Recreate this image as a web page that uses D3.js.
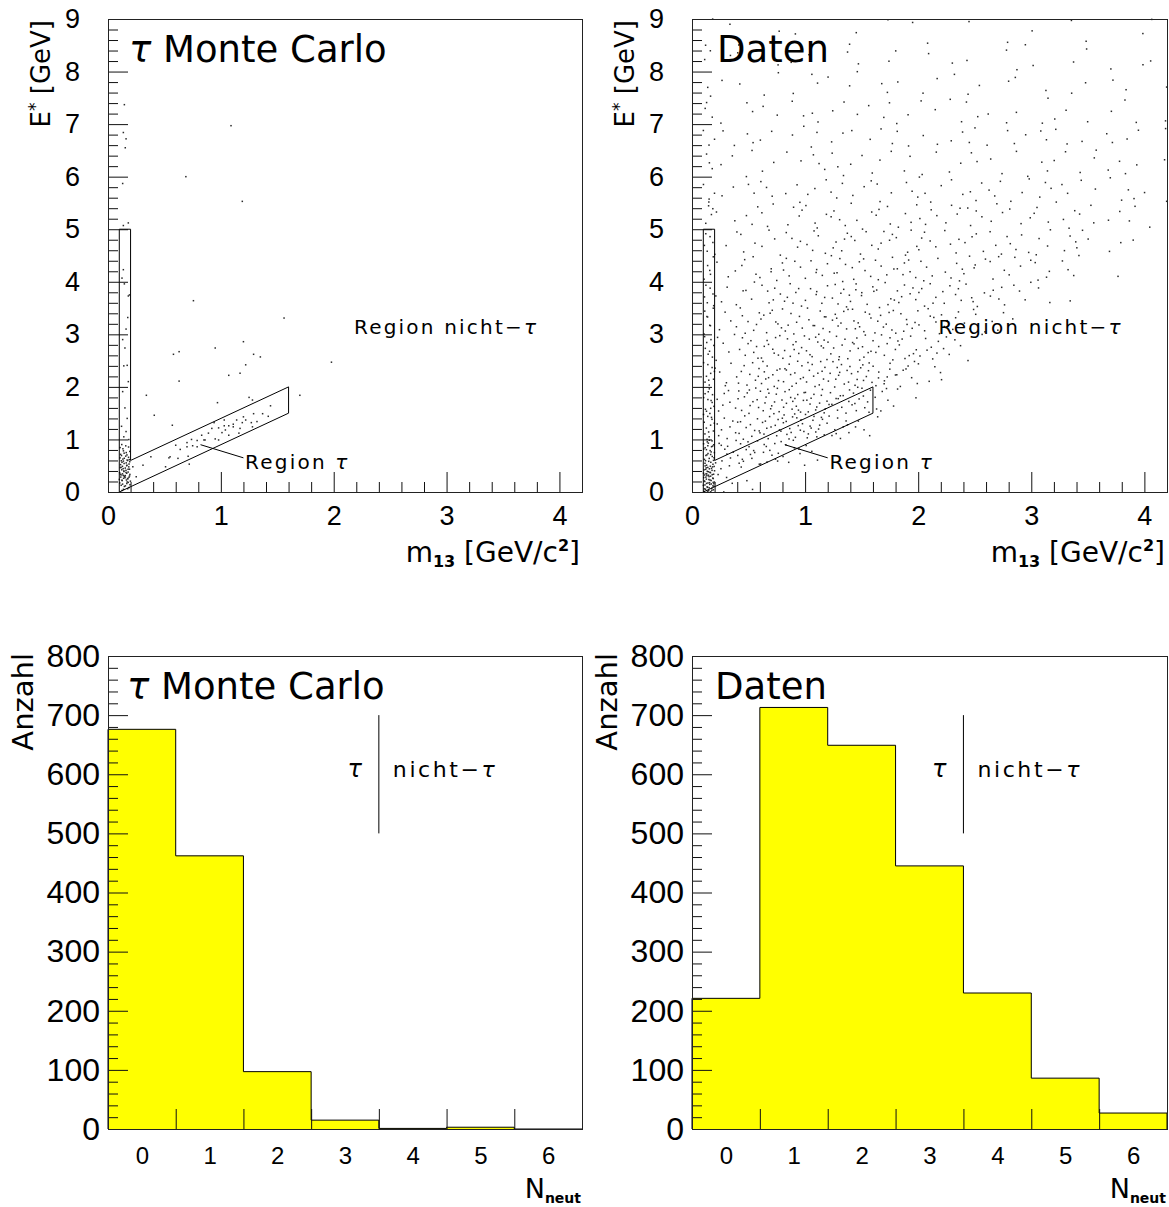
<!DOCTYPE html>
<html>
<head>
<meta charset="utf-8">
<script src="https://cdn.jsdelivr.net/npm/d3@7"></script>
<style>
  html, body { margin: 0; padding: 0; background: #fff; }
  svg { display: block; }
</style>
</head>
<body>
<svg id="chart" width="1169" height="1207"></svg>
<script>
// ---------------------------------------------------------------
// Data
// ---------------------------------------------------------------

// tau Monte Carlo: individual events (m13 [GeV/c^2], E* [GeV]) outside the dense cluster
const mcEvents = [
  [0.145, 7.37], [0.136, 6.84], [0.16, 6.72], [0.153, 6.55], [1.09, 6.97], [0.69, 6.0],
  [0.13, 5.87], [1.19, 5.53], [0.136, 5.07], [0.18, 5.12], [0.136, 4.23], [0.124, 4.07],
  [0.145, 3.96], [0.19, 3.75], [0.18, 3.73], [0.757, 3.64], [1.56, 3.31], [0.175, 3.32],
  [1.20, 2.86], [0.95, 2.74], [1.29, 2.62], [0.58, 2.62], [0.63, 2.67], [1.35, 2.57],
  [1.22, 2.42], [1.07, 2.22], [1.17, 2.26], [0.63, 2.11], [1.98, 2.47], [0.15, 2.74],
  [0.14, 2.40], [0.17, 2.41], [0.13, 1.91], [0.34, 1.84], [1.70, 1.84], [0.97, 1.70],
  [0.41, 1.46], [0.57, 1.27], [1.25, 1.80], [1.28, 1.75],
  [0.15, 1.60], [0.17, 1.40], [0.12, 1.25], [0.16, 1.15], [0.14, 1.05], [0.18, 2.10],
  [0.13, 2.90], [0.16, 3.10],
  [1.44, 1.64], [1.37, 1.49], [1.29, 1.49], [1.20, 1.43], [1.22, 1.37], [1.11, 1.29],
  [1.07, 1.26], [1.03, 1.26], [0.98, 1.22], [1.04, 1.18], [1.01, 1.13], [0.94, 1.32],
  [0.89, 1.12], [0.95, 1.01], [0.85, 0.99], [0.79, 0.98], [0.74, 1.00], [0.70, 0.94],
  [0.79, 0.86], [0.75, 0.88], [0.64, 0.81], [0.60, 0.89], [0.54, 0.65], [0.71, 0.68],
  [0.51, 0.48], [0.31, 0.51], [1.19, 1.32], [1.27, 1.32], [1.11, 1.24], [0.98, 0.99],
  [1.16, 1.12], [1.14, 1.37], [1.03, 1.37], [1.07, 1.08], [0.92, 1.21], [0.83, 1.08],
  [0.86, 0.99], [0.70, 0.86], [0.72, 0.53], [0.55, 0.67], [0.62, 0.64], [0.38, 0.67],
  [1.42, 1.44], [1.32, 1.34], [1.28, 1.24], [1.17, 1.21], [0.22, 0.48], [0.25, 0.29]
];

// tau Monte Carlo: dense cluster in the strip 0.1 < m13 < 0.2, counts per 0.1 GeV of E* from 0
const mcStripCounts = [4, 9, 12, 13, 12, 10, 8, 6, 4, 2];

// Data: counts in the strip 0.1 < m13 < 0.2, per 0.5 GeV of E* from 0 to 9
const dataStripCounts = [60, 30, 14, 12, 10, 8, 7, 6, 5, 5, 4, 4, 3, 3, 3, 2, 2, 2];

// Data: counts per cell, rows = E* bins of 0.5 GeV (0..9), columns = m13 bins of 0.2 GeV (0.2..4.2)
const dataCounts = [
  [6, 3, 0, 0, 0, 0, 0, 0, 0, 0, 0, 0, 0, 0, 0, 0, 0, 0, 0, 0],
  [10, 14, 12, 8, 3, 0, 0, 0, 0, 0, 0, 0, 0, 0, 0, 0, 0, 0, 0, 0],
  [8, 12, 15, 16, 15, 10, 4, 1, 0, 0, 0, 0, 0, 0, 0, 0, 0, 0, 0, 0],
  [7, 11, 13, 14, 14, 13, 12, 7, 2, 0, 0, 0, 0, 0, 0, 0, 0, 0, 0, 0],
  [6, 9, 11, 12, 12, 12, 11, 10, 8, 4, 1, 0, 0, 0, 0, 0, 0, 0, 0, 0],
  [5, 8, 9, 10, 10, 10, 10, 9, 8, 7, 5, 2, 0, 0, 0, 0, 0, 0, 0, 0],
  [4, 6, 8, 8, 9, 9, 9, 8, 8, 7, 6, 5, 3, 1, 0, 0, 0, 0, 0, 0],
  [4, 5, 6, 7, 7, 7, 7, 7, 7, 6, 6, 5, 5, 4, 2, 1, 0, 0, 0, 0],
  [3, 4, 5, 5, 6, 6, 6, 6, 6, 5, 5, 5, 4, 4, 4, 3, 1, 1, 0, 0],
  [3, 3, 4, 4, 5, 5, 5, 5, 5, 5, 4, 4, 4, 4, 4, 3, 3, 2, 1, 0],
  [2, 3, 3, 4, 4, 4, 4, 4, 4, 4, 4, 4, 3, 3, 3, 3, 3, 2, 2, 1],
  [2, 2, 3, 3, 3, 3, 3, 3, 3, 3, 3, 3, 3, 3, 3, 3, 2, 2, 2, 2],
  [2, 2, 2, 2, 3, 3, 3, 2, 2, 2, 2, 2, 2, 2, 2, 2, 2, 2, 2, 1],
  [2, 2, 2, 2, 2, 2, 2, 2, 2, 2, 2, 2, 2, 2, 2, 2, 2, 2, 2, 1],
  [1, 2, 2, 2, 2, 2, 2, 2, 2, 2, 2, 2, 2, 1, 2, 2, 1, 1, 2, 1],
  [1, 1, 2, 1, 2, 2, 1, 2, 1, 2, 1, 2, 1, 1, 1, 1, 1, 1, 1, 1],
  [1, 1, 1, 1, 1, 1, 1, 1, 1, 1, 1, 1, 1, 1, 1, 1, 1, 1, 1, 1],
  [1, 1, 1, 1, 0, 1, 1, 1, 1, 1, 0, 1, 1, 1, 1, 1, 1, 0, 1, 1]
];

// Binning of the cell tables
const stripRange = [0.1, 0.2];
const gridMStart = 0.2, gridMStep = 0.2, gridEStep = 0.5, mcStripEStep = 0.1;

// Selection region for tau candidates (vertices in m13, E*)
const tauRegion = [[0.1, 0], [0.1, 5], [0.2, 5], [0.2, 0.6], [1.6, 2.0], [1.6, 1.5], [0.1, 0]];
const tauLabelPointer = [[0.82, 0.90], [1.20, 0.65]];

// Neutral multiplicity histograms
const nNeut = [0, 1, 2, 3, 4, 5, 6];
const mcNeutCounts = [676, 462, 97, 15, 1, 3, 0];
const dataNeutCounts = [221, 713, 649, 445, 230, 86, 27];
const neutCut = 3.5;
const neutCutSpan = [500, 700];

// Tick values
const eMajorTicks = [0, 1, 2, 3, 4, 5, 6, 7, 8, 9];
const mMajorTicks = [0, 1, 2, 3, 4];
const countMajorTicks = [0, 100, 200, 300, 400, 500, 600, 700, 800];
const binEdgeTicks = [0.5, 1.5, 2.5, 3.5, 4.5, 5.5];

// ---------------------------------------------------------------
// Drawing
// ---------------------------------------------------------------
const svg = d3.select("#chart");
const TXT = "'DejaVu Sans', 'Noto Sans', sans-serif";
const NUM = "'Liberation Sans', Arial, sans-serif";
const INK = "#111";

const panels = {
  tl: { x0: 108, x1: 582, y0: 19, y1: 492 },
  tr: { x0: 692, x1: 1167, y0: 19, y1: 492 },
  bl: { x0: 108, x1: 582, y0: 656, y1: 1129 },
  br: { x0: 692, x1: 1167, y0: 656, y1: 1129 }
};

// Radical inverse in base b (Halton sequence element)
function halton(i, b) {
  let f = 1, r = 0;
  while (i > 0) { f /= b; r += f * (i % b); i = Math.floor(i / b); }
  return r;
}

// Spread `count` events over one cell; each cell starts at its own place
// in a 2D Halton sequence so neighbouring cells do not line up
function spreadInCell(count, m0, m1, e0, e1, seed) {
  const start = 1 + ((seed * 211) % 997);
  const out = [];
  for (let i = 0; i < count; i++) {
    const u = halton(start + i, 2), v = halton(start + i, 3);
    out.push([m0 + u * (m1 - m0), e0 + v * (e1 - e0)]);
  }
  return out;
}

function mcPoints() {
  let pts = mcEvents.slice();
  mcStripCounts.forEach((c, i) => {
    pts = pts.concat(spreadInCell(c, stripRange[0], stripRange[1], i * mcStripEStep, (i + 1) * mcStripEStep, i + 3));
  });
  return pts;
}

function dataPoints() {
  let pts = [];
  dataStripCounts.forEach((c, r) => {
    pts = pts.concat(spreadInCell(c, stripRange[0], stripRange[1], r * gridEStep, (r + 1) * gridEStep, 101 + r));
  });
  dataCounts.forEach((row, r) => {
    row.forEach((c, k) => {
      const m0 = gridMStart + k * gridMStep;
      pts = pts.concat(spreadInCell(c, m0, m0 + gridMStep, r * gridEStep, (r + 1) * gridEStep, r * 20 + k + 7));
    });
  });
  return pts;
}

function styleAxis(g, size) {
  g.select(".domain").remove();
  g.selectAll("line").attr("stroke", INK).attr("stroke-width", 1);
  g.selectAll("text").attr("font-family", NUM).attr("font-size", size).attr("fill", "#000");
}

function minorValues(lo, hi, step, majors) {
  const n = Math.round((hi - lo) / step);
  return d3.range(0, n + 1).map(i => +(lo + i * step).toFixed(4))
    .filter(v => !majors.some(m => Math.abs(m - v) < 1e-6));
}

function frame(g, p) {
  g.append("rect")
    .attr("x", p.x0 + 0.5).attr("y", p.y0 + 0.5)
    .attr("width", p.x1 - p.x0).attr("height", p.y1 - p.y0)
    .attr("fill", "none").attr("stroke", "#222").attr("stroke-width", 1);
}

function titleText(g, x, y, parts) {
  const t = g.append("text").attr("x", x).attr("y", y)
    .attr("font-family", TXT).attr("font-size", 37).attr("fill", "#000");
  parts.forEach(pt => {
    t.append("tspan").text(pt.t).attr("font-style", pt.italic ? "italic" : null);
  });
}

function scatterPanel(p, points, title) {
  const x = d3.scaleLinear().domain([0, 4.2]).range([p.x0, p.x1]);
  const y = d3.scaleLinear().domain([0, 9]).range([p.y1, p.y0]);
  const g = svg.append("g");

  // events
  g.append("g").selectAll("rect").data(points).join("rect")
    .attr("x", d => x(d[0]) - 0.75).attr("y", d => y(d[1]) - 0.75)
    .attr("width", 1.5).attr("height", 1.5).attr("fill", "#2a2a2a");

  // tau selection region
  g.append("path")
    .attr("d", d3.line().x(d => x(d[0])).y(d => y(d[1]))(tauRegion))
    .attr("fill", "none").attr("stroke", "#000").attr("stroke-width", 1);

  // labels
  g.append("path")
    .attr("d", d3.line().x(d => x(d[0])).y(d => y(d[1]))(tauLabelPointer))
    .attr("stroke", "#000").attr("stroke-width", 1).attr("fill", "none");
  const lt = g.append("text").attr("x", x(1.215)).attr("y", y(0.44))
    .attr("font-family", TXT).attr("font-size", 20).attr("letter-spacing", 2.2).attr("fill", "#000");
  lt.append("tspan").text("Region ");
  lt.append("tspan").text("τ").attr("font-style", "italic");
  const ln = g.append("text").attr("x", x(2.18)).attr("y", y(3.0))
    .attr("font-family", TXT).attr("font-size", 20).attr("letter-spacing", 2.2).attr("fill", "#000");
  ln.append("tspan").text("Region nicht−");
  ln.append("tspan").text("τ").attr("font-style", "italic");

  // axes
  const ayMinor = g.append("g").attr("transform", `translate(${p.x0},0)`)
    .call(d3.axisLeft(y).tickValues(minorValues(0, 9, 0.2, eMajorTicks)).tickSize(-10).tickFormat(""));
  styleAxis(ayMinor, 27);
  const ay = g.append("g").attr("transform", `translate(${p.x0},0)`)
    .call(d3.axisLeft(y).tickValues(eMajorTicks).tickSize(-20).tickPadding(28).tickFormat(d3.format("d")));
  styleAxis(ay, 27);
  const axMinor = g.append("g").attr("transform", `translate(0,${p.y1})`)
    .call(d3.axisBottom(x).tickValues(minorValues(0, 4.2, 0.2, mMajorTicks)).tickSize(-10).tickFormat(""));
  styleAxis(axMinor, 27);
  const ax = g.append("g").attr("transform", `translate(0,${p.y1})`)
    .call(d3.axisBottom(x).tickValues(mMajorTicks).tickSize(-20).tickPadding(14).tickFormat(d3.format("d")));
  styleAxis(ax, 27);

  // axis titles
  const yt = g.append("text")
    .attr("transform", `translate(${p.x0 - 58},${p.y0 + 1}) rotate(-90)`)
    .attr("text-anchor", "end").attr("font-family", TXT).attr("font-size", 26).attr("fill", "#000");
  yt.append("tspan").text("E");
  yt.append("tspan").text("*").attr("font-size", 17).attr("dy", -9);
  yt.append("tspan").text(" [GeV]").attr("dy", 9);

  const xt = g.append("text").attr("x", p.x1 - 2).attr("y", p.y1 + 70)
    .attr("text-anchor", "end").attr("font-family", TXT).attr("font-size", 28).attr("fill", "#000");
  xt.append("tspan").text("m");
  xt.append("tspan").text("13").attr("font-size", 16).attr("font-weight", "bold").attr("dy", 5);
  xt.append("tspan").text(" [GeV/c").attr("dy", -5);
  xt.append("tspan").text("2").attr("font-size", 16).attr("font-weight", "bold").attr("dy", -11);
  xt.append("tspan").text("]").attr("dy", 11);

  titleText(g, p.x0 + (title.length > 1 ? 21 : 25), p.y0 + 43, title);
  frame(g, p);
}

function histPanel(p, counts, title) {
  const x = d3.scaleLinear().domain([-0.5, 6.5]).range([p.x0, p.x1]);
  const y = d3.scaleLinear().domain([0, 800]).range([p.y1, p.y0]);
  const g = svg.append("g");

  const steps = [[-0.5, 0]];
  counts.forEach((c, i) => { steps.push([nNeut[i] - 0.5, c]); steps.push([nNeut[i] + 0.5, c]); });
  steps.push([6.5, 0]);

  g.append("path")
    .attr("d", d3.area().x(d => x(d[0])).y0(y(0)).y1(d => y(d[1]))(steps))
    .attr("fill", "#ffff00");
  g.append("path")
    .attr("d", d3.line().x(d => x(d[0])).y(d => y(d[1]))(steps))
    .attr("fill", "none").attr("stroke", "#000").attr("stroke-width", 1);

  // cut between tau and non-tau
  g.append("line")
    .attr("x1", x(neutCut)).attr("x2", x(neutCut))
    .attr("y1", y(neutCutSpan[0])).attr("y2", y(neutCutSpan[1]))
    .attr("stroke", "#000").attr("stroke-width", 1);
  g.append("text").attr("x", x(neutCut) - 17).attr("y", y(595))
    .attr("text-anchor", "end").attr("font-family", TXT).attr("font-size", 24)
    .attr("font-style", "italic").attr("fill", "#000").text("τ");
  const nt = g.append("text").attr("x", x(neutCut) + 14).attr("y", y(595))
    .attr("font-family", TXT).attr("font-size", 22).attr("letter-spacing", 2.6).attr("fill", "#000");
  nt.append("tspan").text("nicht−");
  nt.append("tspan").text("τ").attr("font-style", "italic");

  // axes
  const ayMinor = g.append("g").attr("transform", `translate(${p.x0},0)`)
    .call(d3.axisLeft(y).tickValues(minorValues(0, 800, 20, countMajorTicks)).tickSize(-10).tickFormat(""));
  styleAxis(ayMinor, 32);
  const ay = g.append("g").attr("transform", `translate(${p.x0},0)`)
    .call(d3.axisLeft(y).tickValues(countMajorTicks).tickSize(-20).tickPadding(8).tickFormat(d3.format("d")));
  styleAxis(ay, 32);
  const axTicks = g.append("g").attr("transform", `translate(0,${p.y1})`)
    .call(d3.axisBottom(x).tickValues(binEdgeTicks).tickSize(-20).tickFormat(""));
  styleAxis(axTicks, 24);
  const ax = g.append("g").attr("transform", `translate(0,${p.y1})`)
    .call(d3.axisBottom(x).tickValues(nNeut).tickSize(0).tickPadding(18).tickFormat(d3.format("d")));
  styleAxis(ax, 24);

  // axis titles
  g.append("text")
    .attr("transform", `translate(${p.x0 - 75},${p.y0 - 3}) rotate(-90)`)
    .attr("text-anchor", "end").attr("font-family", TXT).attr("font-size", 29).attr("fill", "#000")
    .text("Anzahl");
  const xt = g.append("text").attr("x", p.x1 - 1).attr("y", p.y1 + 69)
    .attr("text-anchor", "end").attr("font-family", TXT).attr("font-size", 27).attr("fill", "#000");
  xt.append("tspan").text("N");
  xt.append("tspan").text("neut").attr("font-size", 14).attr("font-weight", "bold").attr("dy", 5);

  titleText(g, p.x0 + (title.length > 1 ? 19 : 23), p.y0 + 43, title);
  frame(g, p);
}

const mcTitle = [{ t: "τ", italic: true }, { t: " Monte Carlo" }];
const dataTitle = [{ t: "Daten" }];

scatterPanel(panels.tl, mcPoints(), mcTitle);
scatterPanel(panels.tr, dataPoints(), dataTitle);
histPanel(panels.bl, mcNeutCounts, mcTitle);
histPanel(panels.br, dataNeutCounts, dataTitle);
</script>
</body>
</html>
